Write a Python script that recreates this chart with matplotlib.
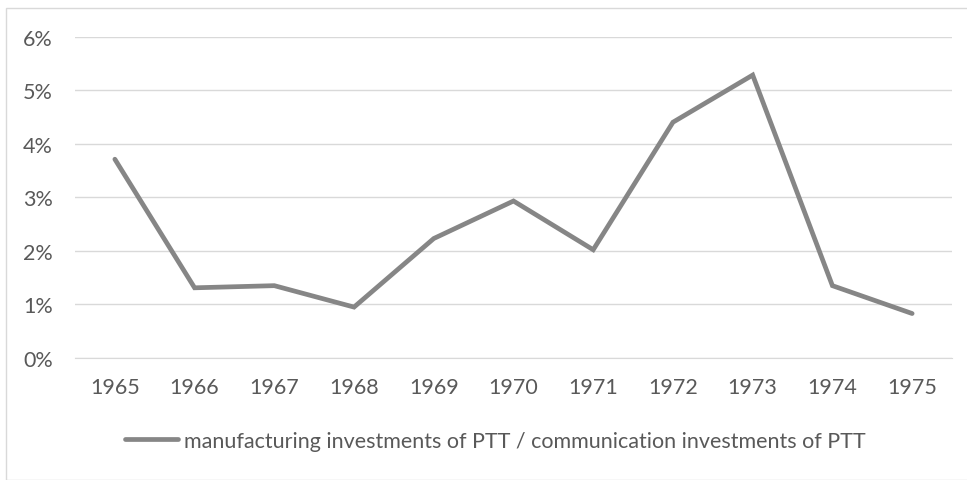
import matplotlib
matplotlib.use("Agg")
import matplotlib.pyplot as plt
from matplotlib.patches import Rectangle
from matplotlib.ticker import FuncFormatter

years = ['1965', '1966', '1967', '1968', '1969', '1970',
         '1971', '1972', '1973', '1974', '1975']
ratio = [3.71, 1.31, 1.35, 0.95, 2.23, 2.93, 2.02, 4.40, 5.28, 1.35, 0.83]
label = 'manufacturing investments of PTT / communication investments of PTT'

plt.rcParams['font.family'] = ['Lato', 'DejaVu Sans']
txt = '#595959'
fs = 15.5

fig = plt.figure(figsize=(9.67, 4.81), dpi=100)
ax = fig.add_axes([75/967, 1 - 359/481, (952 - 75)/967, (359 - 37.5)/481])

x = list(range(len(years)))
ax.plot(x, ratio, color='#868686', lw=3.4, solid_joinstyle='miter',
        solid_capstyle='round', label=label)

ax.set_xlim(-0.5, len(years) - 0.5)
ax.set_ylim(0, 6)
ax.set_yticks(range(0, 7))
ax.yaxis.set_major_formatter(FuncFormatter(lambda v, p: '{:.0f}%'.format(v)))
ax.set_xticks(x)
ax.set_xticklabels(years)
ax.grid(axis='y', color='#d9d9d9', lw=1)
ax.set_axisbelow(True)
for s in ax.spines.values():
    s.set_visible(False)
ax.spines['bottom'].set_visible(True)
ax.spines['bottom'].set_color('#d9d9d9')
ax.tick_params(length=0, labelsize=fs, colors=txt)
ax.tick_params(axis='x', pad=14)
ax.tick_params(axis='y', pad=16)

leg = fig.legend(loc='center', bbox_to_anchor=(495/967, 1 - 442/481),
                 frameon=False, fontsize=fs, handlelength=2.5,
                 handletextpad=0.25)
for t in leg.get_texts():
    t.set_color(txt)

fig.patches.append(Rectangle((5.5/967, 0.5/481), 1.0, 1 - 9/481,
                             transform=fig.transFigure, fill=False,
                             edgecolor='#d9d9d9', lw=1))

fig.savefig('out.png', dpi=100)
